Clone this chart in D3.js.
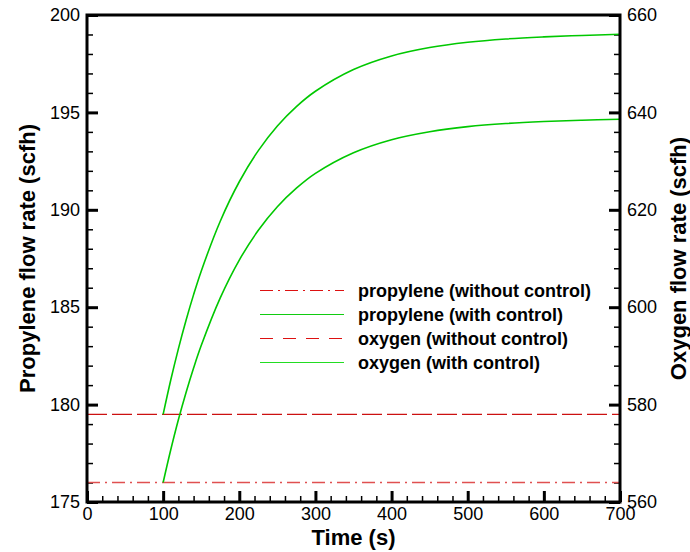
<!DOCTYPE html>
<html>
<head>
<meta charset="utf-8">
<script src="https://cdn.jsdelivr.net/npm/d3@7"></script>
<style>
  body { margin: 0; background: #fff; }
  svg { font-family: "Liberation Sans", Arial, sans-serif; }
</style>
</head>
<body>
<script>
// time points (s) of the controlled responses
var times = [100, 110, 120, 130, 140, 150, 175, 200, 225, 250, 275, 300, 350, 400, 450, 500, 550, 600, 650, 700];
// propylene flow with control (left axis, scfh)
var propyleneCtrl = [176.00, 177.68, 179.22, 180.61, 181.88, 183.03, 185.48, 187.42, 188.95, 190.16, 191.11, 191.87, 192.93, 193.60, 194.01, 194.27, 194.43, 194.53, 194.60, 194.65];
// oxygen flow with control (right axis, scfh)
var oxygenCtrl = [578.00, 585.04, 591.45, 597.28, 602.58, 607.40, 617.66, 625.76, 632.15, 637.21, 641.19, 644.34, 648.80, 651.59, 653.32, 654.40, 655.08, 655.50, 655.80, 656.05];
// constant flows without control
var propyleneNoCtrl = 176.0;
var oxygenNoCtrl = 578.0;

var xTicks = [0, 100, 200, 300, 400, 500, 600, 700];
var leftTicks = [175, 180, 185, 190, 195, 200];
var rightTicks = [560, 580, 600, 620, 640, 660];

var legendItems = [
  {label: 'propylene (without control)', dash: '13,5,2,5', color: '#dd1111'},
  {label: 'propylene (with control)', dash: null, color: '#11cc11'},
  {label: 'oxygen (without control)', dash: '13,10', color: '#dd1111'},
  {label: 'oxygen (with control)', dash: null, color: '#22dd22'}
];

function draw() {
  var W = 690, H = 552;
  var mLeft = 87, mRight = 620, mTop = 15, mBottom = 502;

  var svg = d3.select('body').append('svg')
    .attr('width', W)
    .attr('height', H);

  var x = d3.scaleLinear().domain([0, 700]).range([mLeft, mRight]);
  var yL = d3.scaleLinear().domain([175, 200]).range([mBottom, mTop]);
  var yR = d3.scaleLinear().domain([560, 660]).range([mBottom, mTop]);

  // minor ticks
  var minorX = d3.range(0, 701, 20);
  var minorL = d3.range(175, 200.01, 1);
  var minorR = d3.range(560, 660.01, 4);

  function minor(g) {
    g.select('.domain').remove();
    g.selectAll('text').remove();
    g.selectAll('line').attr('stroke', '#000').attr('stroke-width', 1.5);
  }
  function major(g) {
    g.select('.domain').remove();
    g.selectAll('line').attr('stroke', '#000').attr('stroke-width', 3);
    g.selectAll('text').attr('font-size', 18).attr('fill', '#000')
      .attr('font-family', '"Liberation Sans", Arial, sans-serif');
  }

  svg.append('g').attr('transform', 'translate(0,' + mBottom + ')')
    .call(d3.axisBottom(x).tickValues(minorX).tickSize(-6)).call(minor);
  svg.append('g').attr('transform', 'translate(' + mLeft + ',0)')
    .call(d3.axisLeft(yL).tickValues(minorL).tickSize(-6)).call(minor);
  svg.append('g').attr('transform', 'translate(' + mRight + ',0)')
    .call(d3.axisRight(yR).tickValues(minorR).tickSize(-6)).call(minor);

  svg.append('g').attr('transform', 'translate(0,' + mBottom + ')')
    .call(d3.axisBottom(x).tickValues(xTicks).tickSize(-11).tickPadding(5).tickFormat(d3.format('d')))
    .call(major);
  svg.append('g').attr('transform', 'translate(' + mLeft + ',0)')
    .call(d3.axisLeft(yL).tickValues(leftTicks).tickSize(-11).tickPadding(7).tickFormat(d3.format('d')))
    .call(major);
  svg.append('g').attr('transform', 'translate(' + mRight + ',0)')
    .call(d3.axisRight(yR).tickValues(rightTicks).tickSize(-11).tickPadding(7).tickFormat(d3.format('d')))
    .call(major);

  // data lines
  var gLines = svg.append('g');

  gLines.append('line')
    .attr('x1', x(0)).attr('x2', x(700))
    .attr('y1', yL(propyleneNoCtrl)).attr('y2', yL(propyleneNoCtrl))
    .attr('stroke', '#e05050').attr('stroke-width', 1.3)
    .attr('stroke-dasharray', '13,5,2,5');

  gLines.append('line')
    .attr('x1', x(0)).attr('x2', x(700))
    .attr('y1', yR(oxygenNoCtrl)).attr('y2', yR(oxygenNoCtrl))
    .attr('stroke', '#cc1111').attr('stroke-width', 1.2)
    .attr('stroke-dasharray', '20,5');

  var lineL = d3.line().x(function(d, i) { return x(times[i]); }).y(function(d) { return yL(d); }).curve(d3.curveCatmullRom.alpha(0.5));
  var lineR = d3.line().x(function(d, i) { return x(times[i]); }).y(function(d) { return yR(d); }).curve(d3.curveCatmullRom.alpha(0.5));

  gLines.append('path').datum(propyleneCtrl)
    .attr('d', lineL).attr('fill', 'none')
    .attr('stroke', '#00c800').attr('stroke-width', 1.6);

  gLines.append('path').datum(oxygenCtrl)
    .attr('d', lineR).attr('fill', 'none')
    .attr('stroke', '#00c800').attr('stroke-width', 1.6);

  // frame
  svg.append('rect')
    .attr('x', mLeft).attr('y', mTop)
    .attr('width', mRight - mLeft).attr('height', mBottom - mTop)
    .attr('fill', 'none').attr('stroke', '#000').attr('stroke-width', 3);

  // legend
  var legend = svg.append('g');
  legendItems.forEach(function(item, i) {
    var yy = 290.5 + i * 24;
    legend.append('line')
      .attr('x1', 260).attr('x2', 344)
      .attr('y1', yy).attr('y2', yy)
      .attr('stroke', item.color).attr('stroke-width', 1)
      .attr('stroke-dasharray', item.dash);
    legend.append('text')
      .attr('x', 358).attr('y', yy + 6)
      .attr('font-size', 18).attr('font-weight', 'bold')
      .text(item.label);
  });

  // axis titles
  svg.append('text')
    .attr('x', (mLeft + mRight) / 2).attr('y', 545)
    .attr('text-anchor', 'middle')
    .attr('font-size', 22).attr('font-weight', 'bold')
    .text('Time (s)');

  svg.append('text')
    .attr('transform', 'translate(35,' + (mTop + mBottom) / 2 + ') rotate(-90)')
    .attr('text-anchor', 'middle')
    .attr('font-size', 22).attr('font-weight', 'bold')
    .text('Propylene flow rate (scfh)');

  svg.append('text')
    .attr('transform', 'translate(686,' + (mTop + mBottom) / 2 + ') rotate(-90)')
    .attr('text-anchor', 'middle')
    .attr('font-size', 22).attr('font-weight', 'bold')
    .text('Oxygen flow rate (scfh)');
}

draw();
</script>
</body>
</html>
